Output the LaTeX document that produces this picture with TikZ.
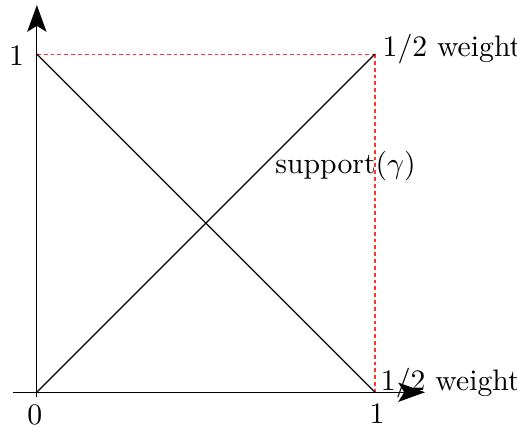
\documentclass[tikz,border=0pt]{standalone}
\usetikzlibrary{arrows.meta}
\begin{document}
\begin{tikzpicture}[x=4cm,y=4cm,
  axis/.style={line width=0.4pt,-{Stealth[length=9pt,width=6.5pt,inset=2pt]}},
  guide/.style={red!80,line width=0.35pt,dash pattern=on 1.3pt off 1pt},
  diag/.style={line width=0.4pt},
  lbl/.style={inner sep=0pt}]
\useasboundingbox (-0.109,-0.1036) rectangle (1.420,1.160);
\coordinate (O) at (0,0);
\coordinate (X) at (1,0);
\coordinate (Y) at (0,1);
\coordinate (XY) at (1,1);
\coordinate (xs) at (-0.071,0);
\coordinate (xe) at (1.148,0);
\coordinate (ys) at (0,-0.015);
\coordinate (ye) at (0,1.145);
\draw[axis] (xs) -- (xe);
\draw[axis] (ys) -- (ye);
\draw[guide] (Y) -- (XY);
\draw[guide] (XY) -- (X);
\draw[diag] (O) -- (XY);
\draw[diag] (Y) -- (X);
\node[lbl,anchor=base east] (l1) at (-0.036,0.967) {1};
\node[lbl,anchor=base] (l0) at (-0.006,-0.095) {0};
\node[lbl,anchor=base] (r1) at (1.006,-0.092) {1};
\node[lbl,anchor=base west] (wt) at (1.021,0.994) {$1/2$ weight};
\node[lbl,anchor=base west] (wb) at (1.016,0.006) {$1/2$ weight};
\node[lbl,anchor=base west] (sp) at (0.704,0.648) {support$(\gamma)$};
\end{tikzpicture}
\end{document}
